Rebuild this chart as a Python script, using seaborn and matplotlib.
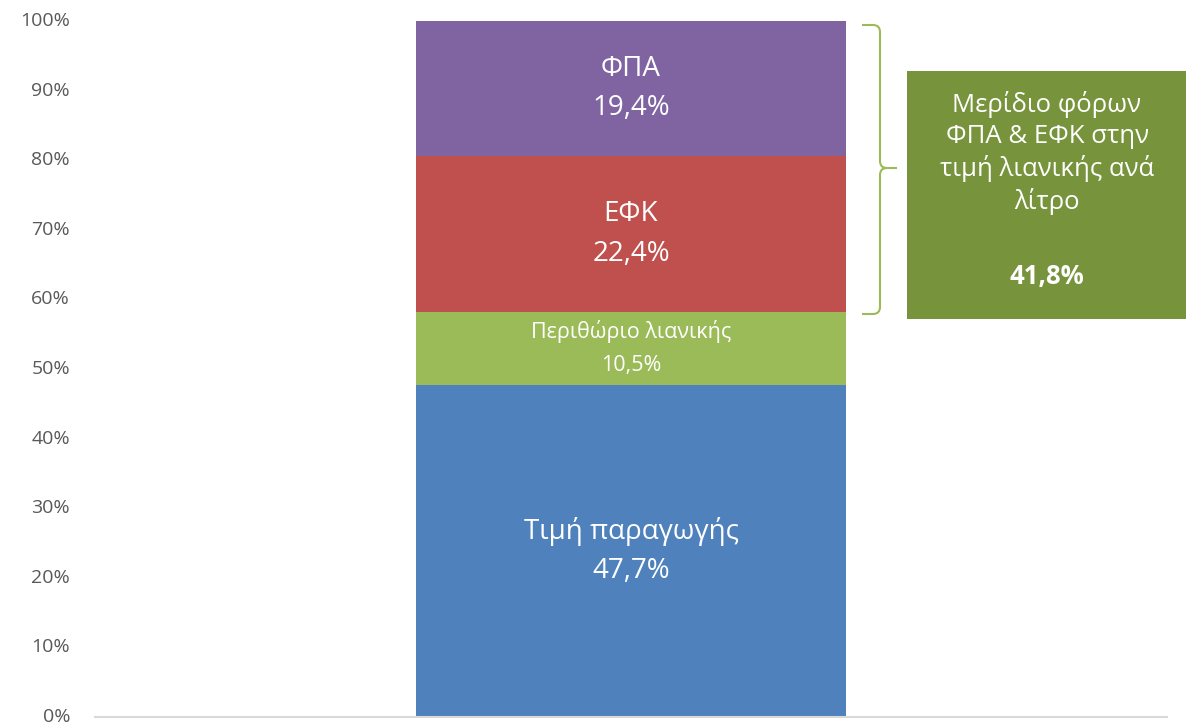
import matplotlib
matplotlib.use("Agg")
import matplotlib.pyplot as plt
import matplotlib.transforms as mtransforms
import seaborn as sns
import pandas as pd
from matplotlib.path import Path
from matplotlib.patches import PathPatch, Rectangle

# ---- data ----
components = ["Τιμή παραγωγής", "Περιθώριο λιανικής", "ΕΦΚ", "ΦΠΑ"]
shares = [47.7, 10.5, 22.4, 19.4]
share_labels = ["47,7%", "10,5%", "22,4%", "19,4%"]
colors = ["#4F81BD", "#9BBB59", "#C0504D", "#8064A2"]
yticks = [0, 10, 20, 30, 40, 50, 60, 70, 80, 90, 100]
ytick_labels = ["0%", "10%", "20%", "30%", "40%", "50%", "60%", "70%", "80%", "90%", "100%"]
box_text = "Μερίδιο φόρων\nΦΠΑ & ΕΦΚ στην\nτιμή λιανικής ανά\nλίτρο"
box_value = "41,8%"

sns.set_theme(style="white")
plt.rcParams["font.family"] = ["Open Sans", "DejaVu Sans"]

W, H = 1186, 726
fig = plt.figure(figsize=(W / 100, H / 100), dpi=100)
ax = fig.add_axes([95 / W, 1 - 717 / H, (1167 - 95) / W, (717 - 21) / H])

bottom = 0.0
for comp, val, lab, col in zip(components, shares, share_labels, colors):
    df = pd.DataFrame({"cat": [""], "val": [val]})
    sns.barplot(data=df, x="cat", y="val", color=col, width=0.402,
                bottom=bottom, ax=ax, saturation=1, linewidth=0)
    mid = bottom + val / 2
    small = comp == "Περιθώριο λιανικής"
    fs = 15.5 if small else 20
    gap = 2.45 if small else 2.87
    ax.text(0, mid + gap, comp, ha="center", va="center", color="white", fontsize=fs)
    ax.text(0, mid - gap, lab, ha="center", va="center", color="white", fontsize=fs)
    bottom += val

ax.set_xlim(-0.5, 0.5)
ax.set_ylim(0, 100)
ax.set_yticks(yticks)
ax.set_yticklabels(ytick_labels, color="#595959", fontsize=14, ha="right")
ax.set_xticks([])
ax.set_xlabel("")
ax.set_ylabel("")
for s in ["top", "right", "left"]:
    ax.spines[s].set_visible(False)
ax.spines["bottom"].set_color("#D9D9D9")
ax.spines["bottom"].set_linewidth(1.5)
ax.tick_params(axis="y", length=0, pad=18)
offset = mtransforms.ScaledTranslation(0, 1.5 / 72, fig.dpi_scale_trans)
for t in ax.get_yticklabels():
    t.set_transform(t.get_transform() + offset)

# ---- brace (figure pixel coords, y from top) ----
def P(x, y):
    return (x / W, 1 - y / H)

xs, xm, xt = 862, 880, 897
yt, ymid, yb = 25, 168, 314
r = 7
verts = [P(xs, yt), P(xm - r, yt), P(xm, yt), P(xm, yt + r),
         P(xm, ymid - r), P(xm, ymid), P(xm + r, ymid), P(xt, ymid),
         P(xm + r, ymid), P(xm, ymid), P(xm, ymid + r),
         P(xm, yb - r), P(xm, yb), P(xm - r, yb), P(xs, yb)]
codes = [Path.MOVETO, Path.LINETO, Path.CURVE3, Path.CURVE3,
         Path.LINETO, Path.CURVE3, Path.CURVE3, Path.LINETO,
         Path.MOVETO, Path.CURVE3, Path.CURVE3,
         Path.LINETO, Path.CURVE3, Path.CURVE3, Path.LINETO]
brace = PathPatch(Path(verts, codes), transform=fig.transFigure,
                  facecolor="none", edgecolor="#9BBB59", linewidth=1.5)
fig.add_artist(brace)

# ---- green box ----
bx0, by0, bx1, by1 = 907, 71, 1186, 319
rect = Rectangle(P(bx0, by1), (bx1 - bx0) / W, (by1 - by0) / H,
                 transform=fig.transFigure, facecolor="#77933C", edgecolor="none")
fig.add_artist(rect)
fig.text(1047 / W, 1 - 153 / H, box_text, ha="center", va="center",
         color="white", fontsize=18.5, linespacing=1.3)
fig.text(1047 / W, 1 - 276 / H, box_value, ha="center", va="center",
         color="white", fontsize=18.5, fontweight="bold")

fig.savefig("out.png", dpi=100)
